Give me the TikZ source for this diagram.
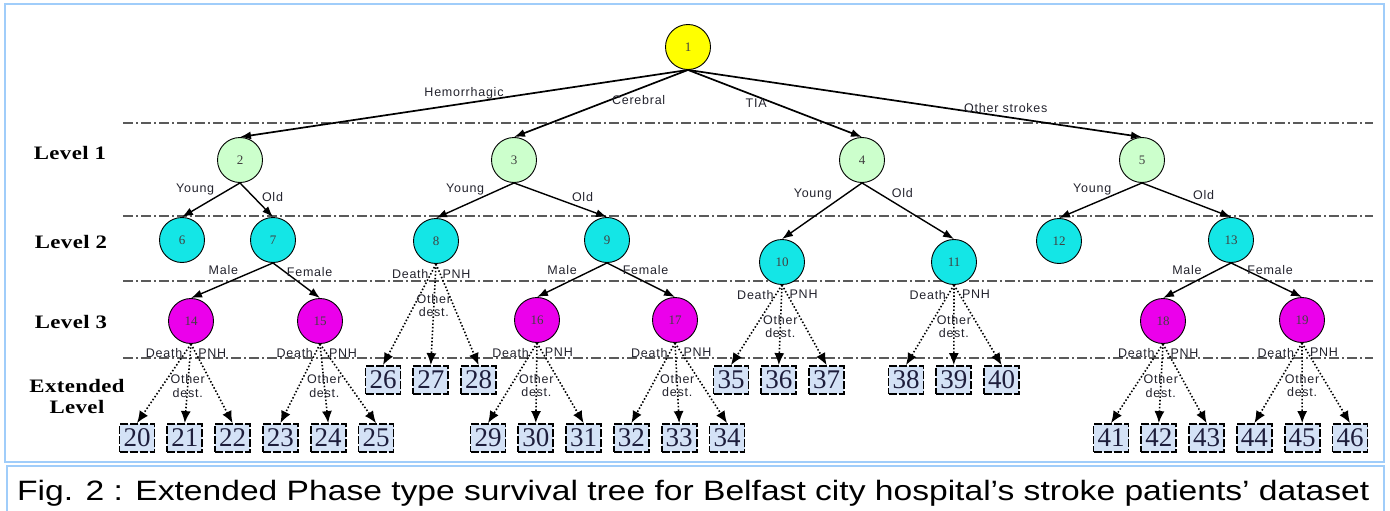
\documentclass[tikz,border=0pt]{standalone}
\usepackage{fontspec}
\setmainfont{Liberation Serif}
\newfontfamily\lblfont[LetterSpace=6]{Liberation Sans}
\newfontfamily\capfont[FakeStretch=1.2]{Liberation Sans}
\newfontfamily\lvlfont[FakeStretch=1.2, LetterSpace=2]{Liberation Serif}
\usepackage{xcolor}
\usepackage{tikz}
\usetikzlibrary{positioning, arrows.meta}
\definecolor{rootyellow}{RGB}{255,255,0}
\definecolor{lvlgreen}{RGB}{204,255,204}
\definecolor{lvlcyan}{RGB}{20,230,230}
\definecolor{lvlmagenta}{RGB}{235,0,235}
\definecolor{boxblue}{RGB}{212,226,246}
\definecolor{frameblue}{RGB}{160,205,250}
\definecolor{linegray}{RGB}{90,90,90}
\definecolor{lbltext}{RGB}{35,35,45}
\tikzset{
  phase/.style={draw, circle, minimum size=45pt, inner sep=0pt, line width=0.9pt,
    font=\fontsize{13}{15}\selectfont, text=black!75},
  rootnode/.style={phase, fill=rootyellow},
  lvlone/.style={phase, fill=lvlgreen},
  lvltwo/.style={phase, fill=lvlcyan},
  lvlthree/.style={phase, fill=lvlmagenta},
  leafbox/.style={draw=black, fill=boxblue, line width=1.8pt, dash pattern=on 8pt off 2pt,
    minimum width=35pt, minimum height=28pt, inner sep=0pt,
    font=\fontsize{27}{29}\selectfont, text={rgb,255:red,30;green,30;blue,60}},
  lbl/.style={inner sep=1.5pt, font=\lblfont\fontsize{12.5}{13.5}\selectfont, text=lbltext},
  lvllbl/.style={inner sep=0pt, font=\lvlfont\bfseries\fontsize{19}{21}\selectfont},
  rootarrow/.style={-{Latex[length=11pt,width=8pt]}, line width=1.7pt},
  arrow/.style={-{Latex[length=11pt,width=8pt]}, line width=1.4pt},
  dotarrow/.style={-{Latex[length=12pt,width=10pt]}, line width=1.6pt, dash pattern=on 1.5pt off 2pt},
  levelline/.style={draw=linegray, line width=1.3pt, dash pattern=on 10pt off 3pt on 2pt off 3pt},
  frameline/.style={draw=frameblue, line width=2pt}
}
\begin{document}
\begin{tikzpicture}[x=1pt, y=-1pt]
\useasboundingbox (0,0) rectangle (1390,511);
\draw[frameline] (5,4) rectangle (1384,462);
\draw[frameline] (7,511) -- (7,466) -- (1384,466) -- (1384,511);
\node[anchor=base west, inner sep=0pt, font=\capfont\fontsize{28}{30}\selectfont] (caption) at (17,500)
  {Fig. 2 : Extended Phase type survival tree for Belfast city hospital’s stroke patients’ dataset};
% level separators
\draw[levelline] (123,123) -- (1373,123);
\draw[levelline] (123,216) -- (1373,216);
\draw[levelline] (123,281) -- (1373,281);
\draw[levelline] (123,358) -- (1373,358);
\node[lvllbl] (lv_1) at (70,153) {Level 1};
\node[lvllbl] (lv_2) at (71,242) {Level 2};
\node[lvllbl] (lv_3) at (71,322) {Level 3};
\node[lvllbl, align=center] (lv_ext) at (77,396) {Extended\\Level};
% tree
\node[rootnode] (n1) at (688,47) {1};
\node[lvlone] (n2) at (240,160) {2};
\node[lvlone] (n3) at (514,160) {3};
\node[lvlone] (n4) at (862,160) {4};
\node[lvlone] (n5) at (1142,160) {5};
\node[lvltwo] (n6) at (182,240) {6};
\node[lvltwo] (n7) at (273,240) {7};
\node[lvltwo] (n8) at (436,241) {8};
\node[lvltwo] (n9) at (607,240) {9};
\node[lvltwo] (n10) at (782,262) {10};
\node[lvltwo] (n11) at (954,262) {11};
\node[lvltwo] (n12) at (1059,241) {12};
\node[lvltwo] (n13) at (1231,240) {13};
\node[lvlthree] (n14) at (191,321) {14};
\node[lvlthree] (n15) at (320,321) {15};
\node[lvlthree] (n16) at (537,320) {16};
\node[lvlthree] (n17) at (675,320) {17};
\node[lvlthree] (n18) at (1163,321) {18};
\node[lvlthree] (n19) at (1302,320) {19};
% extended level
\node[leafbox] (b20) at (137,438) {20};
\node[leafbox, right=11pt of b20] (b21) {21};
\node[leafbox, right=11pt of b21] (b22) {22};
\node[leafbox, right=11pt of b22] (b23) {23};
\node[leafbox, right=11pt of b23] (b24) {24};
\node[leafbox, right=11pt of b24] (b25) {25};
\node[leafbox] (b26) at (383,380) {26};
\node[leafbox, right=11pt of b26] (b27) {27};
\node[leafbox, right=11pt of b27] (b28) {28};
\node[leafbox] (b29) at (488,438) {29};
\node[leafbox, right=11pt of b29] (b30) {30};
\node[leafbox, right=11pt of b30] (b31) {31};
\node[leafbox, right=11pt of b31] (b32) {32};
\node[leafbox, right=11pt of b32] (b33) {33};
\node[leafbox, right=11pt of b33] (b34) {34};
\node[leafbox] (b35) at (731,380) {35};
\node[leafbox, right=11pt of b35] (b36) {36};
\node[leafbox, right=11pt of b36] (b37) {37};
\node[leafbox] (b38) at (906,380) {38};
\node[leafbox, right=11pt of b38] (b39) {39};
\node[leafbox, right=11pt of b39] (b40) {40};
\node[leafbox] (b41) at (1111,438) {41};
\node[leafbox, right=11pt of b41] (b42) {42};
\node[leafbox, right=11pt of b42] (b43) {43};
\node[leafbox, right=11pt of b43] (b44) {44};
\node[leafbox, right=11pt of b44] (b45) {45};
\node[leafbox, right=11pt of b45] (b46) {46};
\path[rootarrow] (n1.south) edge node[lbl, pos=0.5, above=2pt] {Hemorrhagic} (n2.north)
  edge node[lbl, pos=0.45, right] {Cerebral} (n3.north)
  edge node[lbl, pos=0.5, left=6pt] {TIA} (n4.north)
  edge node[lbl, pos=0.7, above=2pt] {Other strokes} (n5.north);
\path[arrow] (n2.south) edge node[lbl, pos=0.2, left=12pt] {Young} (n6.north)
  edge node[lbl, pos=0.6, above right] {Old} (n7.north);
\path[arrow] (n3.south) edge node[lbl, pos=0.2, left=12pt] {Young} (n8.north)
  edge node[lbl, pos=0.6, above right] {Old} (n9.north);
\path[arrow] (n4.south) edge node[lbl, pos=0.2, left=12pt] {Young} (n10.north)
  edge node[lbl, pos=0.3, above right] {Old} (n11.north);
\path[arrow] (n5.south) edge node[lbl, pos=0.2, left=12pt] {Young} (n12.north)
  edge node[lbl, pos=0.55, above right] {Old} (n13.north);
\path[arrow] (n7.south) edge node[lbl, pos=0.4, above left] {Male} (n14.north)
  edge node[lbl, pos=0.25, right] {Female} (n15.north);
\path[arrow] (n9.south) edge node[lbl, pos=0.4, above left] {Male} (n16.north)
  edge node[lbl, pos=0.2, right] {Female} (n17.north);
\path[arrow] (n13.south) edge node[lbl, pos=0.4, above left] {Male} (n18.north)
  edge node[lbl, pos=0.2, right] {Female} (n19.north);
%\path[arrow] (n6.south) edge (b20.north);
\path[dotarrow] (n8.south) edge node[lbl, pos=0.1, left] {Death} (b26.north)
  edge node[lbl, pos=0.41, align=center] {Other\\dest.} (b27.north)
  edge node[lbl, pos=0.1, right] {PNH} (b28.north);
\path[dotarrow] (n10.south) edge node[lbl, pos=0.12, left] {Death} (b35.north)
  edge node[lbl, pos=0.52, align=center] {Other\\dest.} (b36.north)
  edge node[lbl, pos=0.12, right] {PNH} (b37.north);
\path[dotarrow] (n11.south) edge node[lbl, pos=0.12, left] {Death} (b38.north)
  edge node[lbl, pos=0.52, align=center] {Other\\dest.} (b39.north)
  edge node[lbl, pos=0.12, right] {PNH} (b40.north);
\path[dotarrow] (n14.south) edge node[lbl, pos=0.12, left] {Death} (b20.north)
  edge node[lbl, pos=0.53, align=center] {Other\\dest.} (b21.north)
  edge node[lbl, pos=0.12, right] {PNH} (b22.north);
\path[dotarrow] (n15.south) edge node[lbl, pos=0.12, left] {Death} (b23.north)
  edge node[lbl, pos=0.53, align=center] {Other\\dest.} (b24.north)
  edge node[lbl, pos=0.12, right] {PNH} (b25.north);
\path[dotarrow] (n16.south) edge node[lbl, pos=0.12, left] {Death} (b29.north)
  edge node[lbl, pos=0.53, align=center] {Other\\dest.} (b30.north)
  edge node[lbl, pos=0.12, right] {PNH} (b31.north);
\path[dotarrow] (n17.south) edge node[lbl, pos=0.12, left] {Death} (b32.north)
  edge node[lbl, pos=0.53, align=center] {Other\\dest.} (b33.north)
  edge node[lbl, pos=0.12, right] {PNH} (b34.north);
\path[dotarrow] (n18.south) edge node[lbl, pos=0.12, left] {Death} (b41.north)
  edge node[lbl, pos=0.53, align=center] {Other\\dest.} (b42.north)
  edge node[lbl, pos=0.12, right] {PNH} (b43.north);
\path[dotarrow] (n19.south) edge node[lbl, pos=0.12, left] {Death} (b44.north)
  edge node[lbl, pos=0.53, align=center] {Other\\dest.} (b45.north)
  edge node[lbl, pos=0.12, right] {PNH} (b46.north);
\end{tikzpicture}
\end{document}
